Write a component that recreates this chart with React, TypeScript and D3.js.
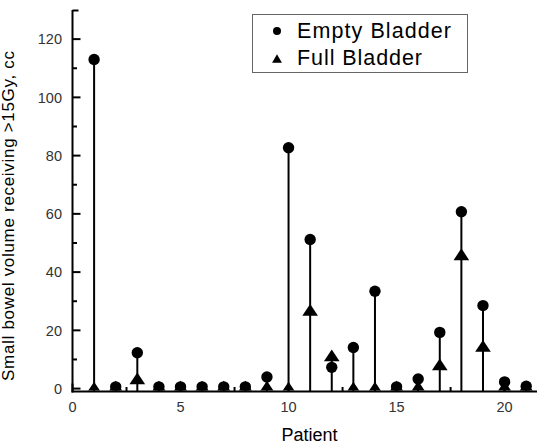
import React from "react";
import * as d3 from "d3";

// patient numbers on the x axis
const patients = [1, 2, 3, 4, 5, 6, 7, 8, 9, 10, 11, 12, 13, 14, 15, 16, 17, 18, 19, 20, 21];
// small bowel volume receiving >15Gy (cc)
const emptyBladder = [113, 0.6, 12.3, 0.6, 0.6, 0.6, 0.6, 0.6, 4, 82.7, 51.2, 7.3, 14.1, 33.4, 0.6, 3.3, 19.3, 60.7, 28.5, 2.3, 0.8];
const fullBladder = [0, 0.3, 3.2, 0.3, 0.3, 0.3, 0.3, 0.3, 0.3, 0, 26.7, 11.1, 0, 0, 0.3, 0.3, 8, 45.8, 14.3, 0.3, 0.3];

const xMajorTicks = [0, 5, 10, 15, 20];
const xMinorTicks = [2.5, 7.5, 12.5, 17.5];
const yMajorTicks = [0, 20, 40, 60, 80, 100, 120];
const yMinorTicks = [10, 30, 50, 70, 90, 110];

const seriesNames = ["Empty Bladder", "Full Bladder"];

const width = 537;
const height = 445;
const marginLeft = 72.5;
const marginTop = 10;
const axisY = 391.5;
const font = "Arial, 'Liberation Sans', sans-serif";

export default function App() {
  const x = d3.scaleLinear().domain([0, 21.5]).range([marginLeft, width]);
  const y = d3.scaleLinear().domain([-1, 130]).range([axisY, marginTop]);

  const triangle = d3.symbol().type(d3.symbolTriangle).size(80)();
  const legendTriangle = d3.symbol().type(d3.symbolTriangle).size(42)();

  return (
    <svg
      width={width}
      height={height}
      style={{ position: "absolute", left: 0, top: 0, background: "white" }}
      fontFamily={font}
    >
      <defs>
        <clipPath id="plot">
          <rect x={marginLeft} y={0} width={width - marginLeft} height={axisY - 1} />
        </clipPath>
      </defs>

      {/* stems */}
      <g stroke="black" strokeWidth={2}>
        {patients.map((p, i) => (
          <line
            key={"s" + p}
            x1={x(p)}
            x2={x(p)}
            y1={axisY}
            y2={y(Math.max(emptyBladder[i], fullBladder[i]))}
          />
        ))}
      </g>

      {/* markers */}
      <g clipPath="url(#plot)" fill="black">
        {patients.map((p, i) => (
          <circle key={"c" + p} cx={x(p)} cy={y(emptyBladder[i])} r={5.7} />
        ))}
        {patients.map((p, i) => (
          <path
            key={"t" + p}
            d={triangle}
            transform={`translate(${x(p)},${y(fullBladder[i]) + 1}) scale(1.15,1)`}
          />
        ))}
      </g>

      {/* y axis */}
      <g stroke="black" strokeWidth={2}>
        <line x1={marginLeft} x2={marginLeft} y1={marginTop} y2={axisY + 1} />
        <line x1={marginLeft} x2={marginLeft + 6} y1={marginTop + 0.5} y2={marginTop + 0.5} />
        {yMajorTicks.map((t) => (
          <line key={"ym" + t} x1={marginLeft} x2={marginLeft + 8} y1={y(t)} y2={y(t)} />
        ))}
        {yMinorTicks.map((t) => (
          <line key={"yn" + t} x1={marginLeft} x2={marginLeft + 4.5} y1={y(t)} y2={y(t)} />
        ))}
      </g>
      <g fontSize={14.5} fill="#333" textAnchor="end">
        {yMajorTicks.map((t) => (
          <text key={"yl" + t} x={62} y={y(t)} dy="0.36em">
            {t}
          </text>
        ))}
      </g>

      {/* x axis */}
      <g stroke="black" strokeWidth={2}>
        <line x1={marginLeft - 1} x2={width} y1={axisY} y2={axisY} />
        {xMajorTicks.map((t) => (
          <line key={"xm" + t} x1={x(t)} x2={x(t)} y1={axisY} y2={axisY - 8} />
        ))}
        {xMinorTicks.map((t) => (
          <line key={"xn" + t} x1={x(t)} x2={x(t)} y1={axisY} y2={axisY - 4.5} />
        ))}
      </g>
      <g fontSize={14.5} fill="#333" textAnchor="middle">
        {xMajorTicks.map((t) => (
          <text key={"xl" + t} x={x(t)} y={412}>
            {t}
          </text>
        ))}
      </g>

      {/* axis titles */}
      <text x={309.5} y={441} fontSize={18} textAnchor="middle" fill="black">
        Patient
      </text>
      <text
        transform="translate(14,216) rotate(-90)"
        fontSize={17}
        textAnchor="middle"
        textLength={330}
        lengthAdjust="spacing"
        fill="black"
      >
        Small bowel volume receiving &gt;15Gy, cc
      </text>

      {/* legend */}
      <rect x={252.5} y={14.5} width={215} height={58} fill="white" stroke="#666" strokeWidth={1} />
      <circle cx={277} cy={31} r={4} fill="black" />
      <path d={legendTriangle} transform="translate(277,60)" fill="black" />
      <text x={297} y={37.5} fontSize={21.5} textLength={154} lengthAdjust="spacing" fill="black">
        {seriesNames[0]}
      </text>
      <text x={297} y={65} fontSize={21.5} textLength={125} lengthAdjust="spacing" fill="black">
        {seriesNames[1]}
      </text>
    </svg>
  );
}
